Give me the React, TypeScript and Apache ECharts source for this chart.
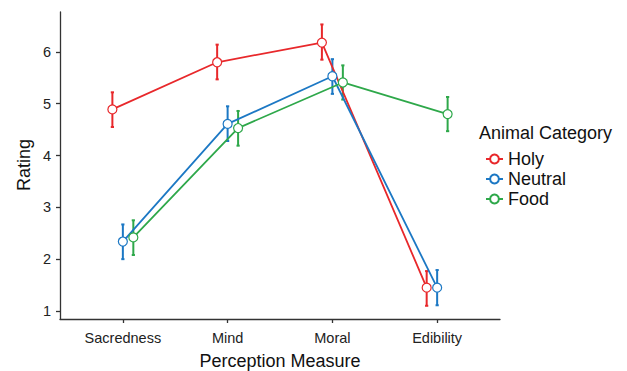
import React, { useEffect, useRef } from 'react';
import * as echarts from 'echarts';

const categories = ['Sacredness', 'Mind', 'Moral', 'Edibility'];
const seriesNames = ['Holy', 'Neutral', 'Food'];
const colors = ['#E8282B', '#1C78C4', '#2EA84A'];

const holyMean = [4.89, 5.8, 6.18, 1.45];
const holyLow = [4.55, 5.47, 5.85, 1.1];
const holyHigh = [5.22, 6.14, 6.53, 1.77];

const neutralMean = [2.34, 4.61, 5.53, 1.45];
const neutralLow = [2.0, 4.28, 5.19, 1.11];
const neutralHigh = [2.67, 4.95, 5.86, 1.79];

const foodMean = [2.42, 4.53, 5.41, 4.8];
const foodLow = [2.08, 4.19, 5.08, 4.47];
const foodHigh = [2.75, 4.86, 5.74, 5.13];

const yTicks = [1, 2, 3, 4, 5, 6];
const xTicks = [1, 2, 3, 4];
const dodge = [-0.1, 0, 0.1];

const FONT = '"Liberation Sans", Arial, Helvetica, sans-serif';

export default function App() {
  const ref = useRef<HTMLDivElement>(null);
  useEffect(() => {
    if (!ref.current) return;
    const chart = echarts.init(ref.current, null, { renderer: 'svg' });
    const means = [holyMean, neutralMean, foodMean];
    const lows = [holyLow, neutralLow, foodLow];
    const highs = [holyHigh, neutralHigh, foodHigh];

    const errSeries: any[] = seriesNames.map((name, s) => ({
      type: 'custom',
      name: name + ' err',
      z: 1,
      silent: true,
      data: categories.map((_, i) => [i + 1 + dodge[s], lows[s][i], highs[s][i]]),
      renderItem: (params: any, api: any) => {
        const x = api.value(0);
        const lo = api.coord([x, api.value(1)]);
        const hi = api.coord([x, api.value(2)]);
        const cap = 1.6;
        const style = { stroke: colors[s], lineWidth: 2 };
        return {
          type: 'group',
          children: [
            { type: 'line', shape: { x1: lo[0], y1: lo[1], x2: hi[0], y2: hi[1] }, style },
            { type: 'line', shape: { x1: lo[0] - cap, y1: lo[1], x2: lo[0] + cap, y2: lo[1] }, style },
            { type: 'line', shape: { x1: hi[0] - cap, y1: hi[1], x2: hi[0] + cap, y2: hi[1] }, style },
          ],
        };
      },
    }));

    const lineSeries: any[] = seriesNames.map((name, s) => ({
      type: 'line',
      name,
      z: 3,
      data: categories.map((_, i) => [i + 1 + dodge[s], means[s][i]]),
      symbol: 'circle',
      symbolSize: 9,
      itemStyle: { color: '#ffffff', borderColor: colors[s], borderWidth: 1.2 },
      lineStyle: { color: colors[s], width: 1.8 },
    }));

    chart.setOption({
      animation: false,
      grid: { left: 60, right: 127, top: 12, bottom: 52 },
      xAxis: {
        type: 'value',
        min: 0.4,
        max: 4.6,
        splitLine: { show: false },
        axisLine: { show: true, onZero: false, lineStyle: { color: '#333', width: 1.3 } },
        axisTick: { show: true, length: 4, customValues: xTicks, lineStyle: { color: '#333', width: 1.3 } },
        axisLabel: {
          customValues: xTicks,
          formatter: (v: number) => categories[Math.round(v) - 1],
          fontFamily: FONT,
          fontSize: 14.5,
          color: '#222',
          margin: 11,
        },
      },
      yAxis: {
        type: 'value',
        min: 0.845,
        max: 6.77,
        splitLine: { show: false },
        axisLine: { show: true, onZero: false, lineStyle: { color: '#333', width: 1.3 } },
        axisTick: { show: true, length: 4, customValues: yTicks, lineStyle: { color: '#333', width: 1.3 } },
        axisLabel: {
          customValues: yTicks,
          formatter: (v: number) => String(Math.round(v)),
          fontFamily: FONT,
          fontSize: 14.5,
          color: '#222',
          margin: 9,
        },
      },
      legend: {
        data: seriesNames,
        orient: 'vertical',
        left: 480,
        top: 145,
        itemWidth: 17,
        itemHeight: 11,
        itemGap: 2,
        textStyle: { fontFamily: FONT, fontSize: 18, color: '#111', padding: [0, 0, 0, 0] },
      },
      graphic: [
        {
          type: 'text',
          left: 479,
          top: 124,
          style: { text: 'Animal Category', fontFamily: FONT, fontSize: 18, fill: '#111' },
        },
        {
          type: 'text',
          x: 280,
          y: 361,
          style: {
            text: 'Perception Measure',
            fontFamily: FONT,
            fontSize: 18,
            fill: '#111',
            align: 'center',
            verticalAlign: 'middle',
          },
        },
        {
          type: 'text',
          x: 24,
          y: 165,
          rotation: Math.PI / 2,
          style: {
            text: 'Rating',
            fontFamily: FONT,
            fontSize: 18,
            fill: '#111',
            align: 'center',
            verticalAlign: 'middle',
          },
        },
      ],
      series: [...errSeries, ...lineSeries],
    });
    return () => chart.dispose();
  }, []);
  return <div ref={ref} style={{ width: 627, height: 371, position: 'absolute', left: 0, top: 0 }} />;
}
